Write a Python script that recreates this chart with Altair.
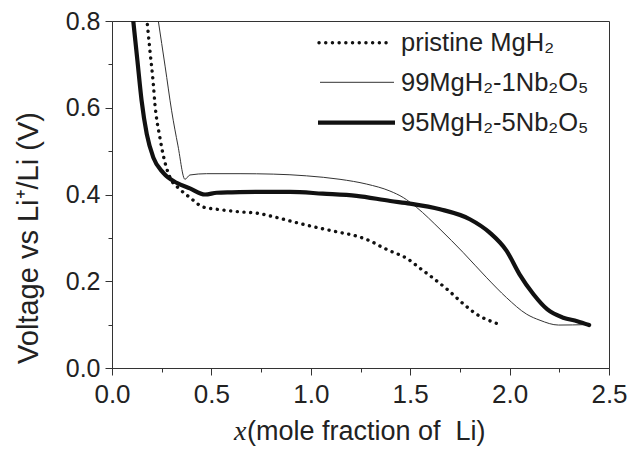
import altair as alt
import pandas as pd

# ---- data ----
series_names = ["pristine MgH₂", "99MgH₂-1Nb₂O₅", "95MgH₂-5Nb₂O₅"]

pristine_x = [0.178, 0.191, 0.208, 0.216, 0.225, 0.238, 0.250, 0.267, 0.292, 0.342,
              0.392, 0.459, 0.527, 0.644, 0.728, 0.828, 0.929, 1.030, 1.130, 1.231,
              1.298, 1.365, 1.398, 1.482, 1.549, 1.616, 1.692, 1.767, 1.834, 1.910,
              1.947]
pristine_y = [0.792, 0.731, 0.654, 0.608, 0.573, 0.539, 0.508, 0.473, 0.439, 0.412,
              0.393, 0.371, 0.366, 0.360, 0.357, 0.347, 0.335, 0.324, 0.314, 0.304,
              0.293, 0.277, 0.270, 0.253, 0.230, 0.207, 0.179, 0.148, 0.124, 0.107,
              0.101]

nb1_x = [0.233, 0.267, 0.300, 0.332, 0.367, 0.392, 0.476, 0.644, 0.811, 0.979,
         1.147, 1.281, 1.398, 1.465, 1.533, 1.650, 1.767, 1.885, 1.985, 2.086,
         2.153, 2.246, 2.385]
nb1_y = [0.800, 0.696, 0.593, 0.512, 0.435, 0.445, 0.448, 0.448, 0.447, 0.443,
         0.435, 0.424, 0.408, 0.393, 0.370, 0.320, 0.266, 0.208, 0.162, 0.124,
         0.110, 0.099, 0.100]

nb5_x = [0.107, 0.128, 0.149, 0.175, 0.208, 0.258, 0.325, 0.392, 0.468, 0.527,
         0.600, 0.728, 0.895, 1.060, 1.230, 1.400, 1.499, 1.650, 1.800, 1.900,
         1.985, 2.050, 2.120, 2.190, 2.270, 2.340, 2.400]
nb5_y = [0.800, 0.708, 0.616, 0.539, 0.485, 0.450, 0.427, 0.414, 0.400, 0.404,
         0.405, 0.406, 0.406, 0.402, 0.397, 0.385, 0.379, 0.366, 0.343, 0.312,
         0.270, 0.216, 0.170, 0.135, 0.116, 0.108, 0.099]

x_ticks = [0, 0.25, 0.5, 0.75, 1.0, 1.25, 1.5, 1.75, 2.0, 2.25, 2.5]
y_ticks = [0, 0.1, 0.2, 0.3, 0.4, 0.5, 0.6, 0.7, 0.8]

x_title_italic = "x"
x_title_rest = "(mole fraction of\u00a0 Li)"
y_title = "Voltage vs Li⁺/Li (V)"

# ---- build table ----
rows = []
for name, xs, ys in zip(series_names, [pristine_x, nb1_x, nb5_x], [pristine_y, nb1_y, nb5_y]):
    for i, (a, b) in enumerate(zip(xs, ys)):
        rows.append({"series": name, "x": a, "y": b, "order": i})
df = pd.DataFrame(rows)

FONT = "Liberation Sans"
AX = "#333333"
TXT = "#222222"

x_axis = alt.Axis(
    values=x_ticks, title=None, grid=False,
    labelExpr="(round(datum.value*100) % 50 == 0) ? format(datum.value, '.1f') : ''",
    tickSize={"condition": {"test": "round(datum.value*100) % 50 == 0", "value": 7}, "value": 4},
    domainColor=AX, tickColor=AX, labelColor=TXT,
    labelFont=FONT, labelFontSize=26, labelPadding=6,
    labelOverlap=False, labelFlush=False,
)
y_axis = alt.Axis(
    values=y_ticks, title=None, grid=False,
    labelExpr="(round(datum.value*10) % 2 == 0) ? format(datum.value, '.1f') : ''",
    tickSize={"condition": {"test": "round(datum.value*10) % 2 == 0", "value": 7}, "value": 4},
    domainColor=AX, tickColor=AX, labelColor=TXT,
    labelFont=FONT, labelFontSize=25, labelPadding=5,
    labelOverlap=False, labelFlush=False,
)
x_scale = alt.Scale(domain=[0, 2.5], nice=False, zero=False)
y_scale = alt.Scale(domain=[0, 0.8], nice=False, zero=False)

base = alt.Chart(df)


def curve(name, **mk):
    return base.transform_filter(alt.datum.series == name).mark_line(
        clip=True, interpolate="monotone", **mk
    ).encode(
        x=alt.X("x:Q", scale=x_scale, axis=x_axis),
        y=alt.Y("y:Q", scale=y_scale, axis=y_axis),
        order="order:Q",
    )


c_pristine = curve(series_names[0], color="#111111", strokeWidth=3.4,
                   strokeDash=[0.1, 6.6], strokeCap="round")
c_nb1 = curve(series_names[1], color="#333333", strokeWidth=1)
c_nb5 = curve(series_names[2], color="#111111", strokeWidth=4.2, strokeCap="round")

one = alt.Chart(pd.DataFrame({"k": [0]}))

leg_y = [21.7, 61.3, 101.7]
leg = [
    one.mark_rule(color="#111111", strokeWidth=3.4, strokeDash=[0.1, 6.6], strokeCap="round").encode(
        x=alt.value(207), x2=alt.value(278), y=alt.value(leg_y[0])),
    one.mark_rule(color="#333333", strokeWidth=1).encode(
        x=alt.value(208), x2=alt.value(282), y=alt.value(leg_y[1])),
    one.mark_rule(color="#111111", strokeWidth=4.2).encode(
        x=alt.value(206), x2=alt.value(283), y=alt.value(leg_y[2])),
]
for i, name in enumerate(series_names):
    leg.append(one.mark_text(align="left", baseline="alphabetic", font=FONT, fontSize=25.5,
                             color=TXT, text=name).encode(
        x=alt.value(289), y=alt.value(leg_y[i] + 8.5)))

titles = [
    one.mark_text(align="center", baseline="middle", angle=270, font=FONT, fontSize=29,
                  color=TXT, text=y_title).encode(x=alt.value(-83), y=alt.value(217)),
    one.mark_text(align="left", baseline="alphabetic", font="Liberation Serif", fontStyle="italic",
                  fontSize=28, color=TXT, text=x_title_italic).encode(x=alt.value(122), y=alt.value(419)),
    one.mark_text(align="left", baseline="alphabetic", font=FONT, fontSize=27,
                  color=TXT, text=x_title_rest).encode(x=alt.value(135), y=alt.value(419)),
]

chart = alt.layer(c_pristine, c_nb1, c_nb5, *leg, *titles).properties(
    width=497, height=347,
    padding={"left": 104, "top": 13, "right": 24, "bottom": 78},
    autosize=alt.AutoSizeParams(type="none"),
    background="white",
).configure_view(stroke=AX, strokeWidth=1)

chart.save("out.html", embed_options={"renderer": "svg", "actions": False})
